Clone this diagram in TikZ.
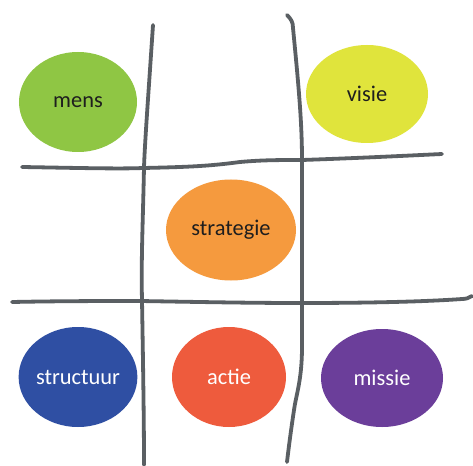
\documentclass[tikz,border=0pt]{standalone}
\usepackage{fontspec}
\setmainfont{Carlito}
\usetikzlibrary{shapes.geometric}
\definecolor{cmens}{HTML}{8FC644}
\definecolor{cvisie}{HTML}{E0E43C}
\definecolor{cstrat}{HTML}{F59A3E}
\definecolor{cstruct}{HTML}{2F4FA3}
\definecolor{cactie}{HTML}{EE5B3D}
\definecolor{cmissie}{HTML}{6B3E9A}
\definecolor{grid}{HTML}{5A5F63}
\definecolor{darktext}{HTML}{1E1E1E}
\tikzset{
  blob/.style={ellipse, draw=none, inner sep=0pt, font=\fontsize{22.5}{26}\selectfont},
  darkblob/.style={blob, text=darktext},
  lightblob/.style={blob, text=white},
  gridline/.style={draw=grid, line width=3.8bp, line cap=round, line join=round}
}
\begin{document}
\begin{tikzpicture}[x=1bp,y=-1bp]
\useasboundingbox (0,0) rectangle (473,466);
\fill[white] (0,0) rectangle (473,466);
\node[darkblob, fill=cmens, minimum width=118bp, minimum height=100bp] (mens) at (78,102) {mens};
\node[darkblob, fill=cvisie, minimum width=122bp, minimum height=98bp] (visie) at (367,94) {visie};
\node[darkblob, fill=cstrat, minimum width=130bp, minimum height=101bp] (strategie) at (231,230) {strategie};
\node[lightblob, fill=cstruct, minimum width=118bp, minimum height=100bp] (structuur) at (78,377) {structuur};
\node[lightblob, fill=cactie, minimum width=114bp, minimum height=100bp] (actie) at (229,377) {actie};
\node[lightblob, fill=cmissie, minimum width=122bp, minimum height=98bp] (missie) at (382,378) {missie};
% grid lines
\draw[gridline] (153,25) .. controls (148,100) and (145,140) .. (144,167)
  .. controls (143,220) and (141,260) .. (142,300)
  .. controls (143,360) and (144,420) .. (144,465);
\draw[gridline] (287,15) .. controls (291,19) and (293,22) .. (293,28)
  .. controls (298,80) and (302,120) .. (302,160)
  .. controls (302,230) and (302,300) .. (302,347)
  .. controls (302,380) and (296,395) .. (294,410)
  .. controls (291,430) and (289,445) .. (287,462);
\draw[gridline] (22,167) .. controls (80,168) and (120,169) .. (143,168)
  .. controls (190,167) and (210,166) .. (240,162)
  .. controls (262,160) and (280,160) .. (302,160)
  .. controls (360,158) and (400,156) .. (442,154);
\draw[gridline] (12,302) .. controls (60,301) and (110,301) .. (140,301)
  .. controls (200,302) and (250,303) .. (300,303)
  .. controls (360,303) and (420,302) .. (462,299)
  .. controls (466,299) and (469,298) .. (472,296);
\end{tikzpicture}
\end{document}
